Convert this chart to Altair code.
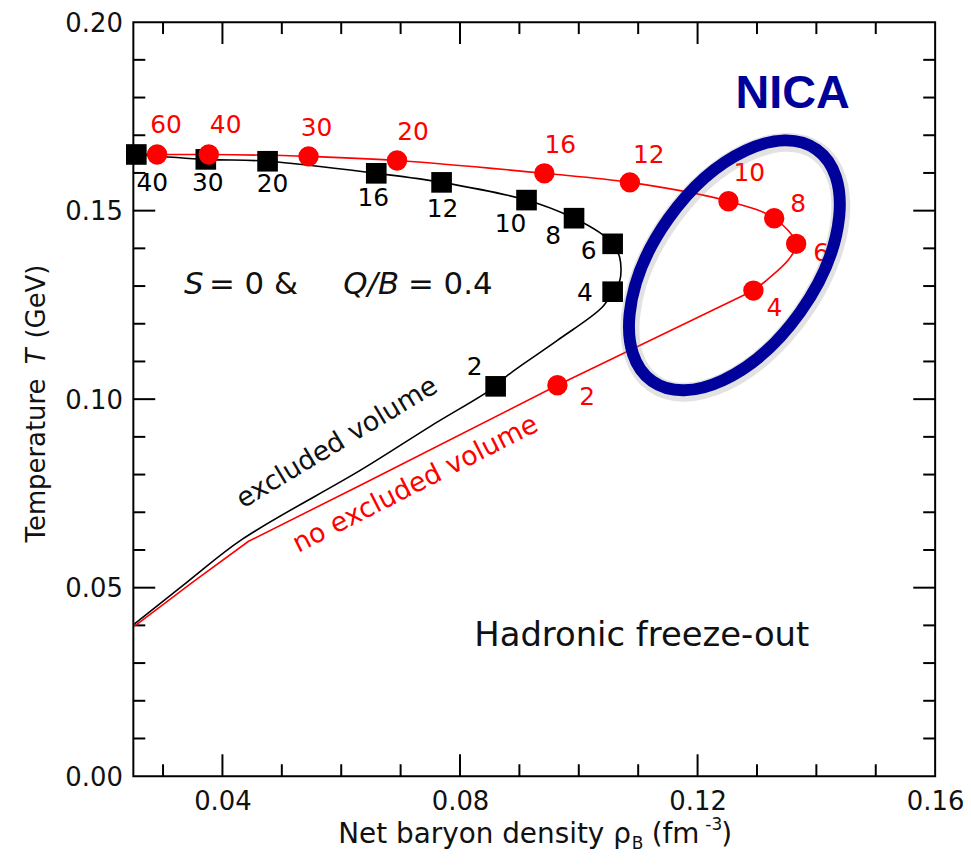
import altair as alt
import pandas as pd

# ---------------- data ----------------
x_tick_major = [0.04, 0.08, 0.12, 0.16]
x_tick_minor = [0.03, 0.05, 0.06, 0.07, 0.09, 0.10, 0.11, 0.13, 0.14, 0.15]
y_tick_major = [0.00, 0.05, 0.10, 0.15, 0.20]
y_tick_minor = [0.01, 0.02, 0.03, 0.04, 0.06, 0.07, 0.08, 0.09,
                0.11, 0.12, 0.13, 0.14, 0.16, 0.17, 0.18, 0.19]

# excluded volume (black squares), labels = collision energy
ev_labels = ["40", "30", "20", "16", "12", "10", "8", "6", "4", "2"]
ev_rho = [0.0255, 0.0372, 0.0476, 0.0659, 0.0769, 0.0912, 0.0992, 0.1057, 0.1057, 0.0860]
ev_T = [0.1649, 0.1636, 0.1631, 0.1599, 0.1575, 0.1528, 0.1480, 0.1412, 0.1285, 0.1034]

# no excluded volume (red circles)
nev_labels = ["60", "40", "30", "20", "16", "12", "10", "8", "6", "4", "2"]
nev_rho = [0.0290, 0.0377, 0.0545, 0.0694, 0.0942, 0.1086, 0.1252, 0.1329, 0.1366, 0.1294, 0.0964]
nev_T = [0.1649, 0.1649, 0.1644, 0.1633, 0.1599, 0.1575, 0.1525, 0.1480, 0.1412, 0.1288, 0.1037]

# freeze-out curves: smooth upper branch, lower branch
ev_upper_rho = [0.0255, 0.0372, 0.0476, 0.0659, 0.0769, 0.0912, 0.0992, 0.1036, 0.1057,
                0.1069, 0.1069, 0.1057]
ev_upper_T = [0.1649, 0.1636, 0.1631, 0.1599, 0.1575, 0.1528, 0.1480, 0.1441, 0.1412,
              0.1375, 0.1314, 0.1285]
ev_lower_rho = [0.1057, 0.1039, 0.0964, 0.0880, 0.0860, 0.0750, 0.0634, 0.0433,
                0.0340, 0.0252]
ev_lower_T = [0.1285, 0.1243, 0.1156, 0.1063, 0.1034, 0.0928, 0.0813, 0.0628,
              0.0514, 0.0404]
nev_upper_rho = [0.0252, 0.0290, 0.0377, 0.0545, 0.0694, 0.0942, 0.1086, 0.1252, 0.1329,
                 0.1366, 0.1354, 0.1315, 0.1294]
nev_upper_T = [0.1652, 0.1649, 0.1649, 0.1644, 0.1633, 0.1599, 0.1575, 0.1525, 0.1480,
               0.1412, 0.1372, 0.1314, 0.1288]
nev_lower_rho = [0.1294, 0.0964, 0.0634, 0.0444, 0.0350, 0.0252]
nev_lower_T = [0.1288, 0.1037, 0.0773, 0.0623, 0.0515, 0.0398]

# label offsets (pixels) relative to their marker
ev_dx = [16, 2, 5, -3, 1, -16, -21, -24, -28, -21]
ev_dy = [29, 24, 23, 25, 27, 24, 18, 7, 1, -19]
nev_dx = [9, 17, 8, 16, 16, 19, 21, 24, 25, 21, 30]
nev_dy = [-30, -30, -28, -29, -28, -27, -28, -14, 9, 18, 12]

# NICA ellipse centre (data coords)
nica_rho, nica_T = 0.1262, 0.1355

W, H = 806, 758
FONT = "DejaVu Sans"
RED = "#FF0000"
NAVY = "#00009A"
INK = "#111111"

xs = alt.Scale(domain=[0.025, 0.16], nice=False, zero=False)
ys = alt.Scale(domain=[0.0, 0.20], nice=False, zero=False)
x_axis = alt.Axis(values=x_tick_major, format=".2f", ticks=False, tickSize=0, domain=False,
                  grid=False, labelFont=FONT, labelFontSize=26, labelColor=INK,
                  labelPadding=12, labelFlush=False, labelOverlap=False, title=None)
y_axis = alt.Axis(values=y_tick_major, format=".2f", ticks=False, tickSize=0, domain=False,
                  grid=False, labelFont=FONT, labelFontSize=26, labelColor=INK,
                  labelPadding=11, labelFlush=False, labelOverlap=False, labelOffset=1,
                  title=None)
X = alt.X("rho:Q", scale=xs, axis=x_axis)
Y = alt.Y("T:Q", scale=ys, axis=y_axis)

layers = []

# ---- ticks drawn inward on all four sides ----
def xt(vals, length):
    d = pd.DataFrame({"rho": vals})
    b = alt.Chart(d).mark_rule(color="black", strokeWidth=2)
    return [b.encode(x=X, y=alt.value(H), y2=alt.value(H - length)),
            b.encode(x=X, y=alt.value(0), y2=alt.value(length))]

def yt(vals, length):
    d = pd.DataFrame({"T": vals})
    b = alt.Chart(d).mark_rule(color="black", strokeWidth=2)
    return [b.encode(y=Y, x=alt.value(0), x2=alt.value(length)),
            b.encode(y=Y, x=alt.value(W), x2=alt.value(W - length))]

layers += xt(x_tick_major[:-1], 22) + xt(x_tick_minor, 12)
layers += yt(y_tick_major[1:-1], 22) + yt(y_tick_minor, 12)

# ---- curves ----
def curve(rhos, Ts, color, interp):
    d = pd.DataFrame({"rho": rhos, "T": Ts, "o": range(len(rhos))})
    return alt.Chart(d).mark_line(color=color, strokeWidth=1.6,
                                  interpolate=interp).encode(x=X, y=Y, order="o:Q")

layers.append(curve(ev_upper_rho, ev_upper_T, "black", "catmull-rom"))
layers.append(curve(ev_lower_rho, ev_lower_T, "black", "catmull-rom"))
layers.append(curve(nev_upper_rho, nev_upper_T, RED, "catmull-rom"))
layers.append(curve(nev_lower_rho, nev_lower_T, RED, "linear"))

# ---- markers ----
ev = pd.DataFrame({"rho": ev_rho, "T": ev_T, "label": ev_labels})
nev = pd.DataFrame({"rho": nev_rho, "T": nev_T, "label": nev_labels})
layers.append(alt.Chart(ev).mark_point(shape="square", filled=True, size=430, color="black",
                                       opacity=1).encode(x=X, y=Y))
layers.append(alt.Chart(nev).mark_point(shape="circle", filled=True, size=420, color=RED,
                                        opacity=1).encode(x=X, y=Y))

# ---- marker labels ----
for i in range(len(ev)):
    layers.append(alt.Chart(ev.iloc[[i]]).mark_text(
        font=FONT, fontSize=25, color="black", dx=ev_dx[i], dy=ev_dy[i],
        align="center", baseline="middle").encode(x=X, y=Y, text="label:N"))
for i in range(len(nev)):
    layers.append(alt.Chart(nev.iloc[[i]]).mark_text(
        font=FONT, fontSize=25, color=RED, dx=nev_dx[i], dy=nev_dy[i],
        align="center", baseline="middle").encode(x=X, y=Y, text="label:N"))

# ---- annotations inside the plot ----
def note(rho, T, text, **kw):
    d = pd.DataFrame({"rho": [rho], "T": [T], "txt": [text]})
    return alt.Chart(d).mark_text(**kw).encode(x=X, y=Y, text="txt:N")

layers.append(note(0.03354, 0.1280, "S", font=FONT, fontSize=31, fontStyle="italic",
                   align="left", baseline="alphabetic", color=INK))
layers.append(note(0.03773, 0.1280, "= 0  &", font=FONT, fontSize=31,
                   align="left", baseline="alphabetic", color=INK))
layers.append(note(0.06034, 0.1280, "Q/B", font=FONT, fontSize=31, fontStyle="italic",
                   align="left", baseline="alphabetic", color=INK))
layers.append(note(0.07123, 0.1280, "= 0.4", font=FONT, fontSize=31,
                   align="left", baseline="alphabetic", color=INK))
layers.append(note(0.0600, 0.0866, "excluded volume", font=FONT, fontSize=27, angle=329,
                   align="center", baseline="alphabetic", color=INK))
layers.append(note(0.0731, 0.0755, "no excluded volume", font=FONT, fontSize=27, angle=333,
                   align="center", baseline="alphabetic", color=RED))
layers.append(note(0.1106, 0.0346, "Hadronic freeze-out", font=FONT, fontSize=34,
                   align="center", baseline="alphabetic", color=INK))
layers.append(note(0.1360, 0.1771, "NICA", font="Liberation Sans", fontSize=47,
                   fontWeight="bold", align="center", baseline="alphabetic", color=NAVY))

# ---- NICA ellipse (custom symbol) ----
ellipse_path = ("M 1 0 C 1 0.3143 0.5523 0.569 0 0.569 C -0.5523 0.569 -1 0.3143 -1 0 "
                "C -1 -0.3143 -0.5523 -0.569 0 -0.569 C 0.5523 -0.569 1 -0.3143 1 0 Z")
ell = pd.DataFrame({"rho": [nica_rho], "T": [nica_T]})
layers.append(alt.Chart(ell).mark_point(shape=ellipse_path, size=81567, angle=125.4,
                                        filled=False, stroke="#8a8a8a", strokeWidth=19,
                                        strokeOpacity=0.35, xOffset=1, yOffset=2).encode(x=X, y=Y))
layers.append(alt.Chart(ell).mark_point(shape=ellipse_path, size=81567, angle=125.4,
                                        filled=False, stroke=NAVY, strokeWidth=12,
                                        strokeOpacity=1, opacity=1).encode(x=X, y=Y))

# ---- axis titles (composed pieces for sub/superscripts and italics) ----
one = pd.DataFrame({"t": [0]})
def ptext(px, py, text, **kw):
    return alt.Chart(one).mark_text(text=text, **kw).encode(x=alt.value(px), y=alt.value(py))

layers.append(ptext(206, 825, "Net baryon density \u03c1", font=FONT, fontSize=28,
                    align="left", baseline="alphabetic", color=INK))
layers.append(ptext(501, 831, "B", font=FONT, fontSize=17,
                    align="left", baseline="alphabetic", color=INK))
layers.append(ptext(521, 825, "(fm", font=FONT, fontSize=28,
                    align="left", baseline="alphabetic", color=INK))
layers.append(ptext(575, 812, "-3", font=FONT, fontSize=17,
                    align="left", baseline="alphabetic", color=INK))
layers.append(ptext(591, 825, ")", font=FONT, fontSize=28,
                    align="left", baseline="alphabetic", color=INK))

layers.append(ptext(-89, 523, "Temperature", font=FONT, fontSize=26, angle=270,
                    align="left", baseline="alphabetic", color=INK))
layers.append(ptext(-89, 344, "T", font=FONT, fontSize=26, angle=270, fontStyle="italic",
                    align="left", baseline="alphabetic", color=INK))
layers.append(ptext(-89, 318, "(GeV)", font=FONT, fontSize=26, angle=270,
                    align="left", baseline="alphabetic", color=INK))

chart = alt.layer(*layers).properties(
    width=W, height=H,
    padding={"left": 126, "top": 12, "right": 28, "bottom": 74},
    autosize=alt.AutoSizeParams(type="none"),
    background="white",
).configure_view(stroke="black", strokeWidth=2)

chart.save("out.html", embed_options={"renderer": "svg", "actions": False})
